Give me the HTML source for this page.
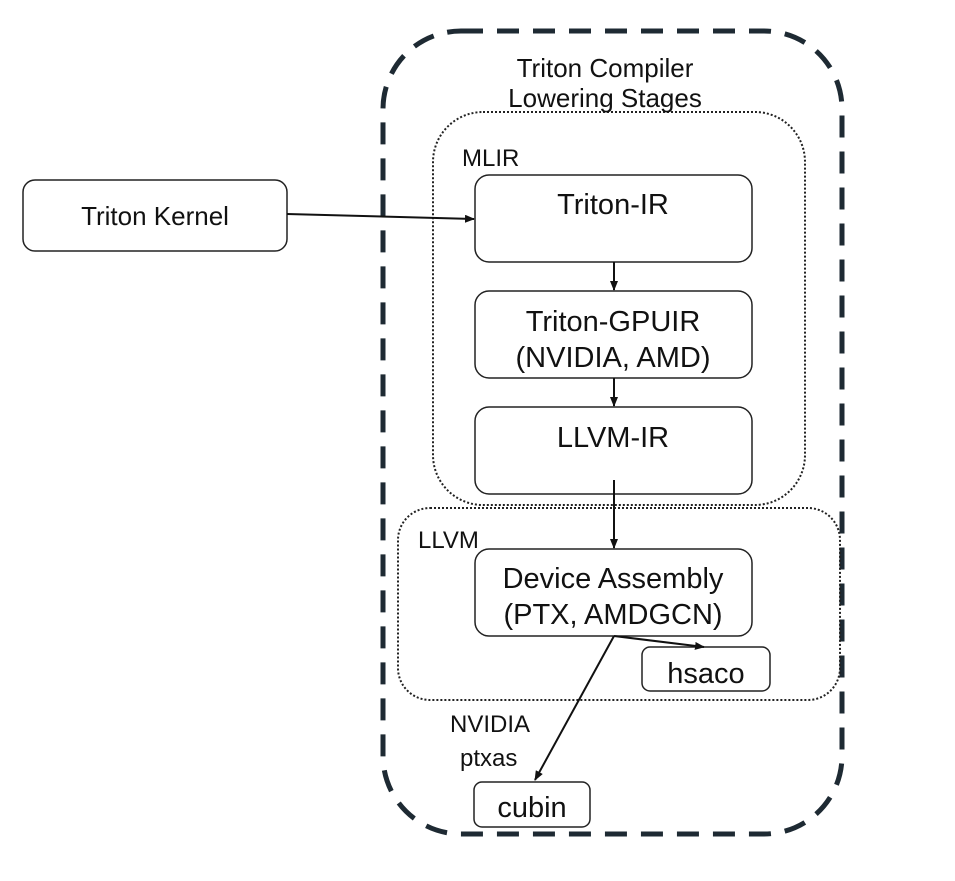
<!DOCTYPE html>
<html><head><style>
html,body{margin:0;padding:0;background:#fff;}
svg text{font-family:"Liberation Sans",sans-serif;fill:#111;}
</style></head><body>
<svg width="955" height="876" viewBox="0 0 955 876" xmlns="http://www.w3.org/2000/svg">
<defs>
<marker id="a" markerWidth="10" markerHeight="8" refX="9" refY="4" orient="auto" markerUnits="userSpaceOnUse">
<path d="M0,0 L10,4 L0,8 z" fill="#111"/></marker>
</defs>
<rect x="383" y="31" width="459" height="803" rx="78" fill="none" stroke="#1e2a33" stroke-width="5" stroke-dasharray="22,14"/>
<rect x="433" y="112" width="372" height="393" rx="50" fill="none" stroke="#222" stroke-width="2" stroke-dasharray="2,2"/>
<rect x="398" y="508" width="442" height="192" rx="32" fill="none" stroke="#222" stroke-width="2" stroke-dasharray="2,2"/>
<text x="605" y="77" font-size="26" text-anchor="middle">Triton Compiler</text>
<text x="605" y="107" font-size="26" text-anchor="middle">Lowering Stages</text>
<text x="462" y="166" font-size="24">MLIR</text>
<text x="418" y="548" font-size="24">LLVM</text>
<text x="450" y="732" font-size="24">NVIDIA</text>
<text x="460" y="766" font-size="24">ptxas</text>
<g fill="#fff" stroke="#222" stroke-width="1.5">
<rect x="23" y="180" width="264" height="71" rx="12"/>
<rect x="475" y="175" width="277" height="87" rx="14"/>
<rect x="475" y="291" width="277" height="87" rx="14"/>
<rect x="475" y="407" width="277" height="87" rx="14"/>
<rect x="475" y="549" width="277" height="87" rx="14"/>
<rect x="642" y="647" width="128" height="44" rx="8"/>
<rect x="474" y="782" width="116" height="45" rx="8"/>
</g>
<text x="155" y="225" font-size="26" text-anchor="middle">Triton Kernel</text>
<text x="613" y="214" font-size="29" text-anchor="middle">Triton-IR</text>
<text x="613" y="331" font-size="29" text-anchor="middle">Triton-GPUIR</text>
<text x="613" y="367" font-size="29" text-anchor="middle">(NVIDIA, AMD)</text>
<text x="613" y="447" font-size="29" text-anchor="middle">LLVM-IR</text>
<text x="613" y="588" font-size="29" text-anchor="middle">Device Assembly</text>
<text x="613" y="624" font-size="29" text-anchor="middle">(PTX, AMDGCN)</text>
<text x="706" y="683" font-size="29" text-anchor="middle">hsaco</text>
<text x="532" y="817" font-size="29" text-anchor="middle">cubin</text>
<g stroke="#111" stroke-width="2" fill="none" marker-end="url(#a)">
<line x1="287" y1="214" x2="474" y2="219"/>
<line x1="614" y1="262" x2="614" y2="290"/>
<line x1="614" y1="378" x2="614" y2="406"/>
<line x1="614" y1="480" x2="614" y2="548"/>
<line x1="614" y1="636" x2="704" y2="647"/>
<line x1="614" y1="636" x2="535" y2="780"/>
</g>
</svg>
</body></html>
